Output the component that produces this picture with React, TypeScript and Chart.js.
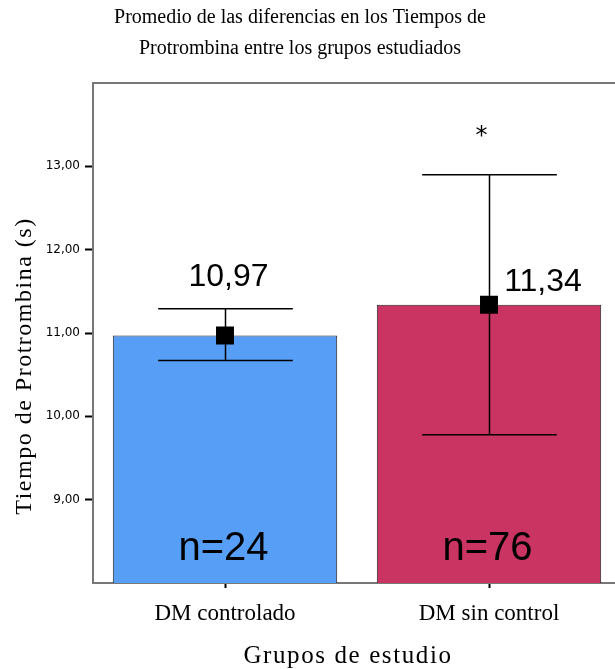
import React, { useEffect, useRef } from "react";
import { Chart, registerables } from "chart.js";
Chart.register(...registerables);

// ---- data ----
const categories = ["DM controlado", "DM sin control"];
const means = [10.97, 11.34];
const errLow = [10.67, 9.78];
const errHigh = [11.29, 12.9];
const sampleSizes = [24, 76];
const significance = ["", "*"];
const yTickValues = [9, 10, 11, 12, 13];
const yMin = 8;
const yMax = 14;
const titleLines = [
  "Promedio de las diferencias en los Tiempos de",
  "Protrombina entre los grupos estudiados",
];
const yTitle = "Tiempo de Protrombina (s)";
const xTitle = "Grupos de estudio";

// ---- style ----
const barColors = ["#579FF6", "#C93462"];
const fmt = (v: number) => v.toFixed(2).replace(".", ",");
// label offsets relative to (category centre, mean pixel)
const meanLabelOffsets = [
  { dx: 3.5, dy: -50 },
  { dx: 54, dy: -14 },
];

const annotPlugin = {
  id: "annot",
  afterDatasetDraw(chart: any, args: any) {
    if (args.index !== 0) return;
    const ctx = chart.ctx;
    const xs = chart.scales.x;
    const ys = chart.scales.y;
    const meta = chart.getDatasetMeta(0);
    ctx.save();
    ctx.strokeStyle = "#000";
    ctx.lineWidth = 1.5;
    categories.forEach((_, i) => {
      const cx = xs.getPixelForValue(i) + 0.5;
      const half = meta.data[i].width * 0.3;
      const yh = ys.getPixelForValue(errHigh[i]);
      const yl = ys.getPixelForValue(errLow[i]);
      ctx.beginPath();
      ctx.moveTo(cx, yh);
      ctx.lineTo(cx, yl);
      ctx.moveTo(cx - half, yh);
      ctx.lineTo(cx + half, yh);
      ctx.moveTo(cx - half, yl);
      ctx.lineTo(cx + half, yl);
      ctx.stroke();
    });
    ctx.restore();
  },
  afterDraw(chart: any) {
    const ctx = chart.ctx;
    const xs = chart.scales.x;
    const ys = chart.scales.y;
    const area = chart.chartArea;
    ctx.save();
    // top frame line
    ctx.strokeStyle = "#777";
    ctx.lineWidth = 2;
    ctx.beginPath();
    ctx.moveTo(area.left - 1, area.top);
    ctx.lineTo(area.right, area.top);
    ctx.stroke();

    ctx.fillStyle = "#000";
    // title
    ctx.font = "20px 'Liberation Serif'";
    ctx.textAlign = "center";
    ctx.textBaseline = "alphabetic";
    ctx.fillText(titleLines[0], 300, 23);
    ctx.fillText(titleLines[1], 300, 54);

    // y title
    ctx.save();
    ctx.translate(31, 366);
    ctx.rotate(-Math.PI / 2);
    ctx.font = "24px 'Liberation Serif'";
    (ctx as any).letterSpacing = "1.5px";
    ctx.fillText(yTitle, 0, 0);
    ctx.restore();

    // x title
    ctx.save();
    ctx.font = "25px 'Liberation Serif'";
    (ctx as any).letterSpacing = "1.6px";
    ctx.fillText(xTitle, 348, 663);
    ctx.restore();

    // value labels
    categories.forEach((_, i) => {
      const cx = xs.getPixelForValue(i);
      const ym = ys.getPixelForValue(means[i]);
      ctx.font = "32px 'Liberation Sans'";
      ctx.textAlign = "center";
      ctx.textBaseline = "alphabetic";
      const o = meanLabelOffsets[i];
      ctx.fillText(fmt(means[i]), cx + o.dx, ym + o.dy);
      // n labels
      ctx.font = "40px 'Liberation Sans'";
      ctx.fillText("n=" + sampleSizes[i], cx - 1.5, area.bottom - 23);
      // significance
      if (significance[i]) {
        ctx.font = "24px 'DejaVu Sans'";
        ctx.fillText(significance[i], cx - 7.5, ys.getPixelForValue(errHigh[i]) - 32);
      }
    });
    ctx.restore();
  },
};

export default function App() {
  const ref = useRef<HTMLCanvasElement>(null);
  useEffect(() => {
    if (!ref.current) return;
    const chart = new Chart(ref.current, {
      type: "bar",
      data: {
        labels: categories,
        datasets: [
          {
            type: "bar",
            data: means,
            backgroundColor: barColors,
            borderColor: "#222",
            borderWidth: 1,
            barPercentage: 0.85,
            categoryPercentage: 1,
            base: yMin,
            order: 2,
          } as any,
          {
            type: "line",
            data: means,
            showLine: false,
            pointStyle: "rect",
            pointRadius: 12.7,
            pointHoverRadius: 12.7,
            pointBackgroundColor: "#000",
            pointBorderColor: "#000",
            pointBorderWidth: 0,
            order: 1,
          } as any,
        ],
      },
      options: {
        animation: false,
        responsive: false,
        devicePixelRatio: 1,
        events: [],
        layout: { padding: { top: 83, right: 19, left: 0, bottom: 0 } },
        plugins: {
          legend: { display: false },
          tooltip: { enabled: false },
          title: { display: false },
        },
        scales: {
          x: {
            offset: true,
            grid: {
              offset: false,
              drawOnChartArea: false,
              drawTicks: true,
              tickLength: 5,
              tickWidth: 2,
              tickColor: "#000",
            },
            border: { display: true, color: "#777", width: 2 },
            ticks: {
              color: "#000",
              padding: 12,
              font: { family: "'Liberation Serif'", size: 23 },
            },
            afterFit: (s: any) => {
              s.height = 86;
            },
          },
          y: {
            min: yMin,
            max: yMax,
            afterBuildTicks: (s: any) => {
              s.ticks = yTickValues.map((v) => ({ value: v }));
            },
            grid: {
              drawOnChartArea: false,
              drawTicks: true,
              tickLength: 8,
              tickWidth: 2,
              tickColor: "#000",
            },
            border: { display: true, color: "#777", width: 2 },
            ticks: {
              color: "#000",
              padding: 5,
              font: { family: "'DejaVu Sans'", size: 12 },
              callback: (v: any) => fmt(Number(v)),
            },
            afterFit: (s: any) => {
              s.width = 93;
            },
          },
        },
      },
      plugins: [annotPlugin],
    });
    return () => chart.destroy();
  }, []);
  return (
    <div
      style={{
        position: "fixed",
        left: 0,
        top: 0,
        width: 615,
        height: 669,
        overflow: "hidden",
        background: "#fff",
      }}
    >
      <canvas ref={ref} width={640} height={669} style={{ width: 640, height: 669, display: "block" }} />
    </div>
  );
}
